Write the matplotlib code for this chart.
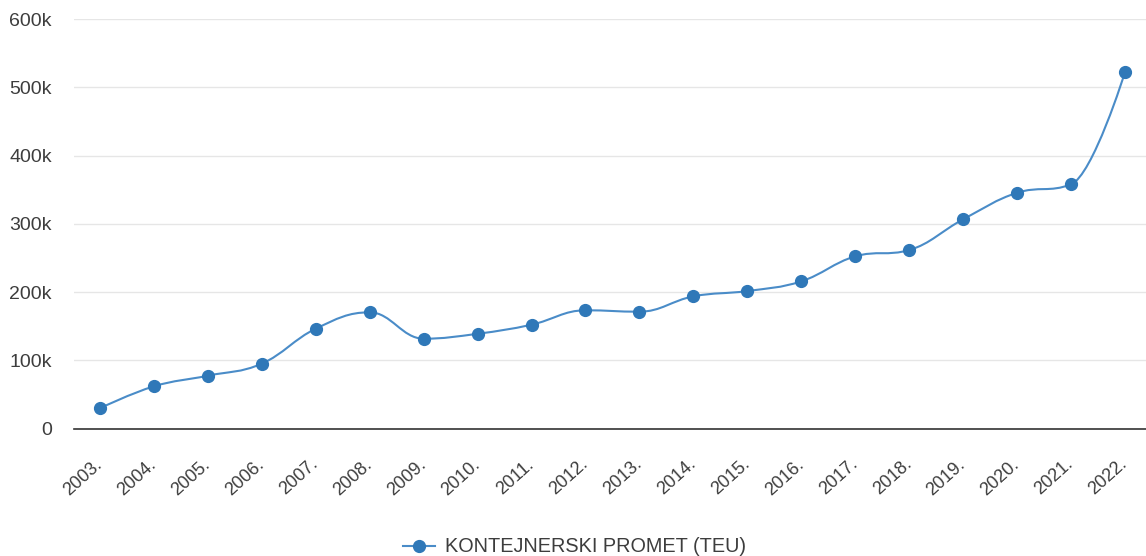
import numpy as np
import matplotlib.pyplot as plt
from matplotlib.path import Path
from matplotlib.patches import PathPatch
from matplotlib.lines import Line2D
from matplotlib.ticker import FuncFormatter

plt.rcParams['font.family'] = ['Liberation Sans', 'DejaVu Sans']

# data (TEU)
years = ['2003.', '2004.', '2005.', '2006.', '2007.', '2008.', '2009.', '2010.', '2011.', '2012.',
         '2013.', '2014.', '2015.', '2016.', '2017.', '2018.', '2019.', '2020.', '2021.', '2022.']
teu = [30000, 62000, 77600, 95200, 146400, 170400, 131800, 139000, 152300, 173400,
       171300, 193800, 201600, 215800, 252400, 261600, 306600, 345500, 357800, 522000]
series_name = 'KONTEJNERSKI PROMET (TEU)'

point_col = '#2f78b8'
line_col = '#4a8cc8'
text_col = '#3d3d3d'


def spline_path(xs, ys, smoothing=1.5):
    # highcharts-style spline: bezier control points from neighbours
    denom = smoothing + 1
    n = len(xs)
    left = [None] * n
    right = [None] * n
    for i in range(n):
        px, py = xs[i], ys[i]
        if 0 < i < n - 1:
            lx, ly = xs[i - 1], ys[i - 1]
            nx, ny = xs[i + 1], ys[i + 1]
            lcx = (smoothing * px + lx) / denom
            lcy = (smoothing * py + ly) / denom
            rcx = (smoothing * px + nx) / denom
            rcy = (smoothing * py + ny) / denom
            corr = (rcy - lcy) * (rcx - px) / (rcx - lcx) + py - rcy
            lcy += corr
            rcy += corr
            if lcy > ly and lcy > py:
                lcy = max(ly, py)
                rcy = 2 * py - lcy
            elif lcy < ly and lcy < py:
                lcy = min(ly, py)
                rcy = 2 * py - lcy
            if rcy > ny and rcy > py:
                rcy = max(ny, py)
                lcy = 2 * py - rcy
            elif rcy < ny and rcy < py:
                rcy = min(ny, py)
                lcy = 2 * py - rcy
            left[i] = (lcx, lcy)
            right[i] = (rcx, rcy)
    verts = [(xs[0], ys[0])]
    codes = [Path.MOVETO]
    for i in range(1, n):
        c1 = right[i - 1] if right[i - 1] else (xs[i - 1], ys[i - 1])
        c2 = left[i] if left[i] else (xs[i], ys[i])
        verts += [c1, c2, (xs[i], ys[i])]
        codes += [Path.CURVE4] * 3
    return Path(verts, codes)


x = np.arange(len(years))

fig = plt.figure(figsize=(11.46, 5.56), dpi=100)
ax = fig.add_axes([0.0646, 0.229, 0.9354, 0.7368])

ax.add_patch(PathPatch(spline_path(list(x), teu), facecolor='none', edgecolor=line_col,
                       linewidth=1.5, zorder=3))
ax.plot(x, teu, linestyle='none', marker='o', markersize=8.5, color=point_col, zorder=4)

ax.set_xlim(-0.48, 19.39)
ax.set_ylim(0, 600000)
ax.set_yticks(np.arange(0, 600001, 100000))
ax.yaxis.set_major_formatter(FuncFormatter(lambda v, p: '0' if v == 0 else f'{int(v / 1000)}k'))
ax.set_xticks(x)
ax.set_xticklabels(years, rotation=42, ha='right', va='center', rotation_mode='anchor')

ax.grid(axis='y', color='#e6e6e6', linewidth=1)
ax.set_axisbelow(True)
for s in ['top', 'right', 'left']:
    ax.spines[s].set_visible(False)
ax.spines['bottom'].set_color('#333333')
ax.spines['bottom'].set_linewidth(1.2)
ax.tick_params(axis='y', length=0, pad=16, labelsize=14, labelcolor=text_col)
ax.tick_params(axis='x', length=0, pad=24, labelsize=13, labelcolor=text_col)

handle = Line2D([], [], color=line_col, linewidth=1.5, marker='o', markersize=8.5,
                markerfacecolor=point_col, markeredgecolor=point_col)
fig.legend([handle], [series_name], loc='lower center', bbox_to_anchor=(0.5015, -0.033),
           frameon=False, fontsize=14.3, handlelength=1.6, handletextpad=0.5,
           labelcolor=text_col)

fig.savefig('out.png', dpi=100)
